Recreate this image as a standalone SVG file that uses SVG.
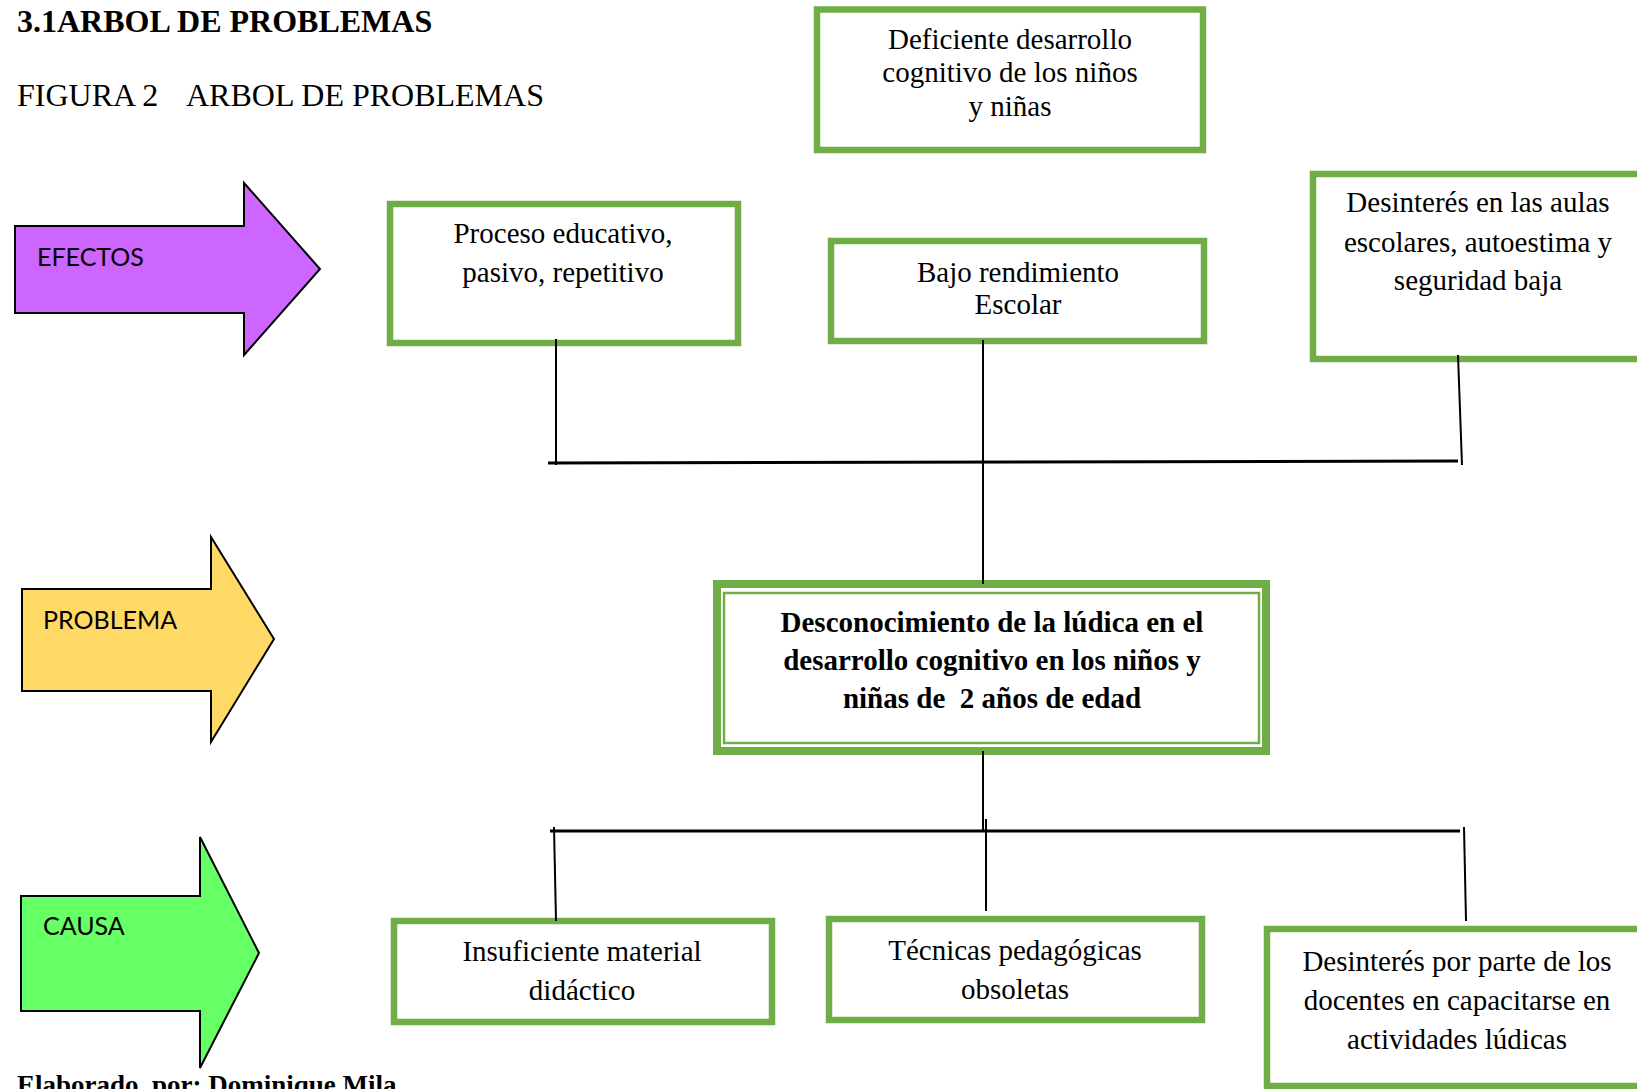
<svg xmlns="http://www.w3.org/2000/svg" width="1637" height="1089" viewBox="0 0 1637 1089">
<style>
.bg{fill:#ffffff}
.box{fill:#ffffff;stroke:#70AD47;stroke-width:6.5}
.t{font-family:"Liberation Serif","Times New Roman",serif;font-size:29px;fill:#000;text-anchor:middle}
.tb{font-family:"Liberation Serif","Times New Roman",serif;font-size:29px;font-weight:bold;fill:#000;text-anchor:middle}
.h{font-family:"Liberation Serif","Times New Roman",serif;fill:#000}
.arr{stroke:#000;stroke-width:2;stroke-linejoin:miter}
.al{font-family:Lato,"Open Sans",sans-serif;font-size:25px;fill:#000}
.ln{stroke:#000;stroke-width:2;fill:none}
.lnb{stroke:#000;stroke-width:3;fill:none}
</style>
<rect class="bg" x="0" y="0" width="1637" height="1089"/>

<g id="headings">
<text class="h" x="17" y="32" font-size="32" font-weight="bold">3.1ARBOL DE PROBLEMAS</text>
<text class="h" x="17" y="106" font-size="32">FIGURA 2</text>
<text class="h" x="186" y="106" font-size="32">ARBOL DE PROBLEMAS</text>
<text class="h" x="17" y="1094" font-size="27" font-weight="bold" xml:space="preserve">Elaborado  por: Dominique Mila</text>
</g>

<g id="arrow-efectos">
<polygon class="arr" fill="#CC66FF" points="15,226 244,226 244,183 320,269 244,355 244,313 15,313"/>
<text class="al" x="37" y="266">EFECTOS</text>
</g>
<g id="arrow-problema">
<polygon class="arr" fill="#FFD966" points="22,589 211,589 211,537 274,639 211,742 211,691 22,691"/>
<text class="al" x="43" y="629">PROBLEMA</text>
</g>
<g id="arrow-causa">
<polygon class="arr" fill="#66FF66" points="21,896 200,896 200,837 259,953 200,1068 200,1011 21,1011"/>
<text class="al" x="43" y="935">CAUSA</text>
</g>

<g id="node-deficiente">
<rect class="box" x="817" y="9.5" width="386" height="140.5"/>
<text class="t" x="1010" y="49">Deficiente desarrollo</text>
<text class="t" x="1010" y="82">cognitivo de los niños</text>
<text class="t" x="1010" y="116">y niñas</text>
</g>

<g id="node-proceso">
<rect class="box" x="390" y="204" width="348" height="139"/>
<text class="t" x="563" y="243">Proceso educativo,</text>
<text class="t" x="563" y="282">pasivo, repetitivo</text>
</g>

<g id="node-bajo">
<rect class="box" x="831" y="241" width="373" height="100"/>
<text class="t" x="1018" y="282">Bajo rendimiento</text>
<text class="t" x="1018" y="314">Escolar</text>
</g>

<g id="node-desinteres-aulas">
<rect class="box" x="1313" y="174" width="340" height="185"/>
<text class="t" x="1478" y="212">Desinterés en las aulas</text>
<text class="t" x="1478" y="252">escolares, autoestima y</text>
<text class="t" x="1478" y="290">seguridad baja</text>
</g>

<g id="node-problema">
<rect x="717" y="584" width="549" height="167" fill="#ffffff" stroke="#70AD47" stroke-width="8"/>
<rect x="724" y="593" width="535" height="150" fill="none" stroke="#70AD47" stroke-width="2.5"/>
<text class="tb" x="992" y="632">Desconocimiento de la lúdica en el</text>
<text class="tb" x="992" y="670">desarrollo cognitivo en los niños y</text>
<text class="tb" x="992" y="708" xml:space="preserve">niñas de  2 años de edad</text>
</g>

<g id="node-insuficiente">
<rect class="box" x="394" y="921" width="378" height="101"/>
<text class="t" x="582" y="961">Insuficiente material</text>
<text class="t" x="582" y="1000">didáctico</text>
</g>

<g id="node-tecnicas">
<rect class="box" x="829" y="919" width="373" height="101"/>
<text class="t" x="1015" y="960">Técnicas pedagógicas</text>
<text class="t" x="1015" y="999">obsoletas</text>
</g>

<g id="node-desinteres-docentes">
<rect class="box" x="1267" y="929" width="400" height="157"/>
<text class="t" x="1457" y="971">Desinterés por parte de los</text>
<text class="t" x="1457" y="1010">docentes en capacitarse en</text>
<text class="t" x="1457" y="1049">actividades lúdicas</text>
</g>

<g id="connectors">
<line class="ln" x1="556" y1="339" x2="556" y2="465"/>
<line class="ln" x1="983" y1="340" x2="983" y2="584"/>
<line class="ln" x1="1458" y1="355" x2="1462" y2="465"/>
<line class="lnb" x1="548" y1="463" x2="1458" y2="461"/>
<line class="ln" x1="983" y1="751" x2="983" y2="831"/>
<line class="lnb" x1="550" y1="831" x2="1460" y2="831"/>
<line class="ln" x1="554" y1="827" x2="556" y2="921"/>
<line class="ln" x1="986" y1="819" x2="986" y2="911"/>
<line class="ln" x1="1464" y1="827" x2="1466" y2="921"/>
</g>
</svg>
